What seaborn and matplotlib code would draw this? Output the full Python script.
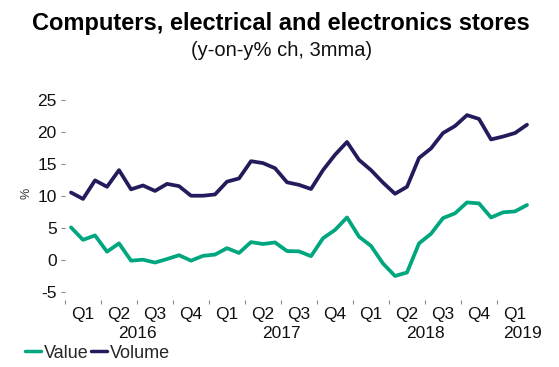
import matplotlib
matplotlib.use("Agg")
import matplotlib.pyplot as plt
import matplotlib.transforms as mtransforms
from matplotlib.lines import Line2D
import seaborn as sns
import pandas as pd
import numpy as np

# Monthly data Jan 2016 - Mar 2019 (3mma y-on-y % change)
value = [5.05, 3.1, 3.8, 1.25, 2.55, -0.15, 0.0, -0.45, 0.1, 0.7, -0.15, 0.6,
         0.8, 1.8, 1.05, 2.75, 2.45, 2.7, 1.35, 1.3, 0.55, 3.35, 4.65, 6.6,
         3.6, 2.15, -0.6, -2.55, -2.0, 2.55, 4.05, 6.5, 7.25, 8.95, 8.8, 6.6,
         7.4, 7.55, 8.55]
volume = [10.5, 9.5, 12.4, 11.4, 14.0, 11.0, 11.6, 10.75, 11.85, 11.5, 10.0, 10.0,
          10.2, 12.2, 12.7, 15.4, 15.1, 14.3, 12.1, 11.7, 11.05, 14.0, 16.4, 18.4,
          15.6, 14.0, 12.05, 10.3, 11.4, 15.9, 17.4, 19.8, 20.9, 22.6, 22.0, 18.8,
          19.25, 19.8, 21.1]
quarter_labels = ["Q1", "Q2", "Q3", "Q4"] * 3 + ["Q1"]
year_labels = ["2016", "2017", "2018", "2019"]
year_pos = [5.5, 17.5, 29.5, 37.6]
y_ticks = [-5, 0, 5, 10, 15, 20, 25]

month = np.arange(len(value))
df = pd.DataFrame({
    "month": np.concatenate([month, month]),
    "pct": value + volume,
    "series": ["Value"] * len(value) + ["Volume"] * len(volume),
})

sns.set_style("white")
plt.rcParams["font.family"] = ["Liberation Sans", "DejaVu Sans"]
plt.rcParams["axes.unicode_minus"] = False

fig = plt.figure(figsize=(5.59, 3.67), dpi=100)
ax = fig.add_axes([0.1163, 0.1826, 0.8372, 0.5804])

palette = {"Value": "#00a77e", "Volume": "#221c5c"}
sns.lineplot(data=df, x="month", y="pct", hue="series", palette=palette,
             linewidth=2.7, ax=ax, legend=False)

ax.set_xlim(-0.5, 38.5)
ax.set_ylim(-6.3, 27)
for s in ax.spines.values():
    s.set_visible(False)

ax.set_yticks(y_ticks)
ax.set_yticklabels([str(t) for t in y_ticks], fontsize=12.5, color="#111111")
ax.tick_params(axis="y", which="major", left=True, length=3, width=0.8,
               color="#888888", pad=3)

major_x = [-0.5 + 3 * k for k in range(13)]
ax.set_xticks(major_x)
ax.set_xticklabels([""] * len(major_x))
ax.tick_params(axis="x", which="major", bottom=True, length=3, width=0.8,
               color="#888888")
minor_x = [1 + 3 * k for k in range(13)]
ax.set_xticks(minor_x, minor=True)
ax.set_xticklabels(quarter_labels, minor=True, fontsize=12.5, color="#111111")
ax.tick_params(axis="x", which="minor", bottom=False, length=0, pad=5)

trans = mtransforms.blended_transform_factory(ax.transData, ax.transAxes)
for yl, xp in zip(year_labels, year_pos):
    ax.text(xp, -0.155, yl, transform=trans, ha="center", va="center",
            fontsize=12.5, color="#111111")

ax.set_xlabel("")
ax.set_ylabel("%", fontsize=9, color="#333333", labelpad=6)
ax.yaxis.set_label_coords(-0.07, 0.5)

fig.text(0.502, 0.917, "Computers, electrical and electronics stores",
         ha="center", va="baseline", fontsize=17, fontweight="bold", color="#000000")
fig.text(0.503, 0.847, "(y-on-y% ch, 3mma)", ha="center", va="baseline",
         fontsize=14.5, color="#111111")

handles = [Line2D([], [], color=palette["Value"], lw=2.5),
           Line2D([], [], color=palette["Volume"], lw=2.5)]
fig.legend(handles, ["Value", "Volume"], loc="center left",
           bbox_to_anchor=(0.044, 0.038), ncol=2, frameon=False,
           fontsize=13, handlelength=0.9, handletextpad=0.15,
           columnspacing=0.15, borderaxespad=0, borderpad=0)

fig.savefig("out.png", dpi=100)
